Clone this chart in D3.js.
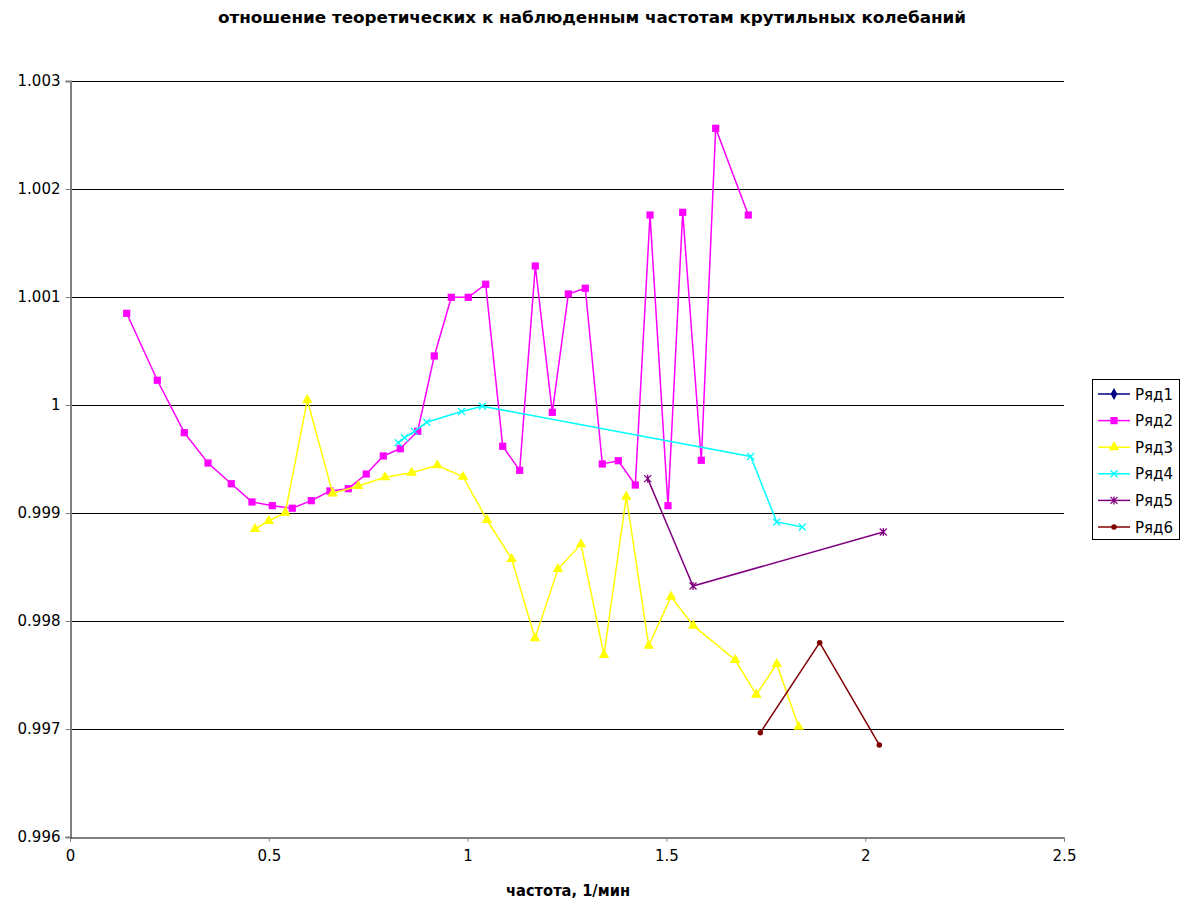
<!DOCTYPE html>
<html><head><meta charset="utf-8">
<script src="https://cdn.jsdelivr.net/npm/d3@7"></script>
<style>body{margin:0;background:#fff}svg{display:block}</style>
</head><body><svg id="c" width="1182" height="902"></svg>
<script>
const title = "отношение теоретических к наблюденным частотам крутильных колебаний";
const xLabel = "частота, 1/мин";
const seriesNames = ["Ряд1","Ряд2","Ряд3","Ряд4","Ряд5","Ряд6"];
const xTicks = [0,0.5,1,1.5,2,2.5];
const yTicks = [0.996,0.997,0.998,0.999,1,1.001,1.002,1.003];

const r1x = [], r1y = [];
const r2x = [0.1426,0.2196,0.2875,0.3471,0.4057,0.4577,0.5088,0.5591,0.6069,0.6539,0.7000,0.7452,0.7880,0.8307,0.8745,0.9162,0.9590,1.0018,1.0455,1.0883,1.1310,1.1703,1.2130,1.2533,1.2960,1.3388,1.3790,1.4218,1.4588,1.5040,1.5410,1.5878,1.6240,1.7060];
const r2y = [1.000849,1.000229,0.999744,0.999463,0.999271,0.999102,0.999068,0.999044,0.999114,0.999204,0.999225,0.999361,0.999528,0.999595,0.999757,1.000454,1.000997,1.000997,1.001118,0.999618,0.999395,1.001287,0.999932,1.001028,1.001081,0.999454,0.999484,0.999259,1.001759,0.999068,1.001784,0.999488,1.002562,1.001759];
const r3x = [0.4653,0.4998,0.5415,0.5968,0.6607,0.7251,0.7922,0.8594,0.9238,0.9884,1.0488,1.1109,1.1695,1.2274,1.2852,1.3430,1.3991,1.4555,1.5116,1.5676,1.6733,1.7261,1.7774,1.8327];
const r3y = [0.998852,0.998926,0.999003,1.000046,0.999182,0.999250,0.999331,0.999373,0.999442,0.999336,0.998935,0.998574,0.997840,0.998481,0.998710,0.997685,0.999151,0.997771,0.998225,0.997957,0.997639,0.997318,0.997602,0.997021];
const r4x = [0.8257,0.8413,0.8660,0.8971,0.9847,1.0370,1.7120,1.7774,1.8418];
const r4y = [0.999651,0.999697,0.999756,0.999840,0.999940,0.999989,0.999523,0.998917,0.998870];
const r5x = [1.4530,1.5669,2.0455];
const r5y = [0.999318,0.998324,0.998824];
const r6x = [1.7362,1.8855,2.0355];
const r6y = [0.996966,0.997799,0.996852];

const colors = ["#000080","#FF00FF","#FFFF00","#00FFFF","#800080","#800000"];
const markers = ["diamond","square","triangle","x","star","circle"];
const seriesX = [r1x,r2x,r3x,r4x,r5x,r6x];
const seriesY = [r1y,r2y,r3y,r4y,r5y,r6y];

const svg = d3.select("#c");
const x = d3.scaleLinear().domain([0,2.5]).range([70,1064]);
const y = d3.scaleLinear().domain([0.996,1.003]).range([837,81]);

// gridlines
svg.append("g").selectAll("line").data(yTicks.slice(1)).join("line")
  .attr("x1",x(0)).attr("x2",x(2.5))
  .attr("y1",d=>Math.round(y(d))+0.5).attr("y2",d=>Math.round(y(d))+0.5)
  .attr("stroke","#000").attr("stroke-width",1);

// axes
const yAxis = d3.axisLeft(y).tickValues(yTicks).tickSize(5).tickPadding(5).tickFormat(d=>d3.format("")(+d.toFixed(3)));
const gy = svg.append("g").attr("transform","translate(70.5,0)").call(yAxis);
const xAxis = d3.axisBottom(x).tickValues(xTicks).tickSize(4).tickPadding(9).tickFormat(d=>String(d));
const gx = svg.append("g").attr("transform","translate(0,837.5)").call(xAxis);
[gx,gy].forEach(g=>{
  g.selectAll(".tick line").attr("stroke","#808080");
  g.selectAll("text").attr("font-family","DejaVu Sans, Verdana, sans-serif").attr("font-size","15px").attr("fill","#000");
});
gy.select(".domain").attr("stroke","#808080").attr("stroke-width",2);
gx.select(".domain").attr("stroke","#000").attr("stroke-width",1);

function drawMarker(g, type, color, cx, cy){
  if(type==="x"){
    const s=3.5;
    g.append("path").attr("d",`M${cx-s},${cy-s}L${cx+s},${cy+s}M${cx-s},${cy+s}L${cx+s},${cy-s}`).attr("stroke",color).attr("stroke-width",1.3).attr("fill","none");
  } else if(type==="star"){
    const s=3.5;
    g.append("path").attr("d",`M${cx-s},${cy-s}L${cx+s},${cy+s}M${cx-s},${cy+s}L${cx+s},${cy-s}M${cx},${cy-s-0.5}L${cx},${cy+s+0.5}`).attr("stroke",color).attr("stroke-width",1.3).attr("fill","none");
  } else {
    const sym = {diamond:d3.symbolDiamond,square:d3.symbolSquare,triangle:d3.symbolTriangle,circle:d3.symbolCircle}[type];
    const size = {diamond:40,square:52,triangle:48,circle:24}[type];
    g.append("path").attr("d",d3.symbol(sym,size)()).attr("transform",`translate(${cx},${cy})`).attr("fill",color).attr("stroke","none");
  }
}

const line = d3.line().x(d=>x(d[0])).y(d=>y(d[1]));
seriesX.forEach((xs,i)=>{
  const pts = xs.map((v,j)=>[v,seriesY[i][j]]);
  const g = svg.append("g");
  if(pts.length){
    g.append("path").datum(pts).attr("d",line).attr("fill","none").attr("stroke",colors[i]).attr("stroke-width",1.5);
    pts.forEach(p=>drawMarker(g,markers[i],colors[i],x(p[0]),y(p[1])));
  }
});

// title
svg.append("text").attr("x",592).attr("y",23).attr("text-anchor","middle")
  .attr("font-family","DejaVu Sans Condensed, DejaVu Sans, sans-serif").attr("font-weight","bold").attr("font-size","16px")
  .attr("textLength",748).attr("lengthAdjust","spacingAndGlyphs").text(title);
// x label
svg.append("text").attr("x",568).attr("y",896).attr("text-anchor","middle")
  .attr("font-family","DejaVu Sans Condensed, DejaVu Sans, sans-serif").attr("font-weight","bold").attr("font-size","15px")
  .attr("textLength",124).attr("lengthAdjust","spacingAndGlyphs")
  .text(xLabel);

// legend
const lg = svg.append("g");
lg.append("rect").attr("x",1092.5).attr("y",379.5).attr("width",87).attr("height",160).attr("fill","#fff").attr("stroke","#000").attr("stroke-width",1);
seriesNames.forEach((n,i)=>{
  const ly = 394 + i*26.6;
  lg.append("line").attr("x1",1098).attr("x2",1130).attr("y1",ly).attr("y2",ly).attr("stroke",colors[i]).attr("stroke-width",1.5);
  drawMarker(lg,markers[i],colors[i],1114,ly);
  lg.append("text").attr("x",1135).attr("y",ly+5.5).attr("font-family","DejaVu Sans, sans-serif").attr("font-size","15px").text(n);
});
</script></body></html>
